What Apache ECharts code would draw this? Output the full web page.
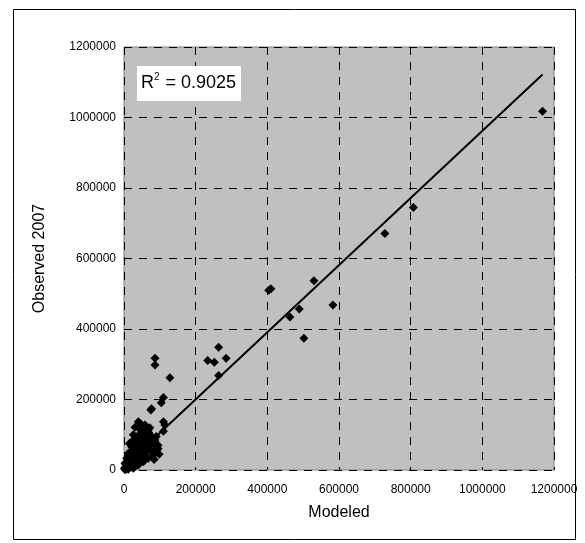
<!DOCTYPE html>
<html>
<head>
<meta charset="utf-8">
<script src="https://cdn.jsdelivr.net/npm/echarts@6/dist/echarts.min.js"></script>
<style>
html, body { margin: 0; padding: 0; background: #fff; }
#chart { width: 585px; height: 543px; }
</style>
</head>
<body>
<div id="chart"></div>
<script>
// modeled (x) vs observed 2007 (y)
const modeled = [
  1168000, 807500, 728000, 583000, 530000, 502000, 489000, 463000, 410000, 404000,
  285000, 264000, 264000, 252000, 233500, 128000, 86500, 86500, 110000, 104000,
  77000, 75000, 110000, 110000, 114000,
  40000, 30700, 44700, 58600, 67900, 54000, 35400, 26000, 21400, 12100,
  7400, 2800, 1000, 16700, 30700, 44700, 58600, 72600, 86500, 91200,
  81900, 67900, 54000, 40000, 26000, 12100, 77200, 63300, 49300, 5000,
  8000, 20000, 25000, 35000, 45000, 60000, 70000, 50000, 38000, 20000,
  15000, 30000, 95000, 62000, 50000, 26000, 15000, 72000, 98000, 84000,
  5000, 10000, 18000, 25000, 32000, 40000, 48000, 55000, 65000, 75000,
  85000, 95000, 80000, 60000, 45000, 35000, 55000, 65000, 40000, 28000,
  18000, 10000, 3000, 90000, 70000, 45000, 33000, 22000, 14000, 6000
];
const observed = [
  1018000, 745000, 671000, 468000, 537000, 373500, 457000, 434000, 514000, 510000,
  317000, 348000, 268000, 305500, 310500, 262000, 317000, 298000, 206000, 191000,
  174000, 170000, 137000, 110000, 128000,
  137000, 121000, 132400, 127700, 113500, 94600, 94600, 85100, 66200, 47300,
  33100, 18900, 4700, 18900, 37800, 56700, 66200, 75600, 85100, 56700,
  42600, 33100, 23600, 14200, 4700, 2000, 94600, 85100, 75600, 8000,
  12000, 25000, 40000, 55000, 70000, 50000, 60000, 40000, 28000, 10000,
  30000, 20000, 70000, 100000, 110000, 100000, 75000, 120000, 45000, 30000,
  15000, 25000, 40000, 60000, 75000, 90000, 105000, 120000, 100000, 90000,
  70000, 60000, 50000, 40000, 30000, 15000, 60000, 75000, 45000, 30000,
  12000, 5000, 1000, 95000, 105000, 115000, 60000, 50000, 35000, 3000
];
// linear trendline end points
const trendX = [0, 1168000];
const trendY = [10000, 1122000];

const points = modeled.map((m, i) => [m, observed[i]]);
const trend = trendX.map((t, i) => [t, trendY[i]]);

const chart = echarts.init(document.getElementById('chart'));

const axisCommon = {
  type: 'value',
  min: 0,
  max: 1200000,
  interval: 200000,
  nameLocation: 'middle',
  nameTextStyle: { fontFamily: 'Liberation Sans', fontSize: 16, color: '#000' },
  axisLine: { show: false },
  axisTick: { show: false },
  axisLabel: {
    fontFamily: 'Liberation Sans', fontSize: 12, color: '#000',
    formatter: (v) => String(v)
  },
  splitLine: { show: true, lineStyle: { color: '#000', width: 1, type: [8, 7] } }
};

chart.setOption({
  animation: false,
  grid: {
    left: 124, right: 31, top: 47, bottom: 73,
    show: true,
    backgroundColor: '#c0c0c0',
    borderColor: '#808080',
    borderWidth: 1
  },
  xAxis: Object.assign({}, axisCommon, {
    name: 'Modeled',
    nameGap: 35,
    axisLabel: Object.assign({}, axisCommon.axisLabel, { margin: 14 })
  }),
  yAxis: Object.assign({}, axisCommon, {
    name: 'Observed 2007',
    nameGap: 76,
    axisLabel: Object.assign({}, axisCommon.axisLabel, { margin: 8 })
  }),
  graphic: [
    {
      type: 'rect',
      left: 11, top: 7,
      shape: { width: 562, height: 530 },
      style: { fill: 'none', stroke: '#000', lineWidth: 1 },
      silent: true
    },
    {
      type: 'rect',
      left: 137, top: 66,
      shape: { width: 104, height: 35 },
      style: { fill: '#fff' },
      z: 10
    },
    {
      type: 'text',
      left: 141, top: 72,
      style: {
        text: '{a|R}{s|2}{a| = 0.9025}',
        rich: {
          a: { fontFamily: 'Liberation Sans', fontSize: 18, lineHeight: 22, fill: '#000' },
          s: { fontFamily: 'Liberation Sans', fontSize: 10, lineHeight: 10, verticalAlign: 'top', padding: [0, 1, 0, 0], fill: '#000' }
        }
      },
      z: 11
    }
  ],
  series: [
    {
      type: 'scatter',
      data: points,
      symbol: 'diamond',
      symbolSize: 9,
      itemStyle: { color: '#000', opacity: 1 }
    },
    {
      type: 'line',
      data: trend,
      showSymbol: false,
      lineStyle: { color: '#000', width: 2 },
      z: 3
    }
  ]
});
</script>
</body>
</html>
